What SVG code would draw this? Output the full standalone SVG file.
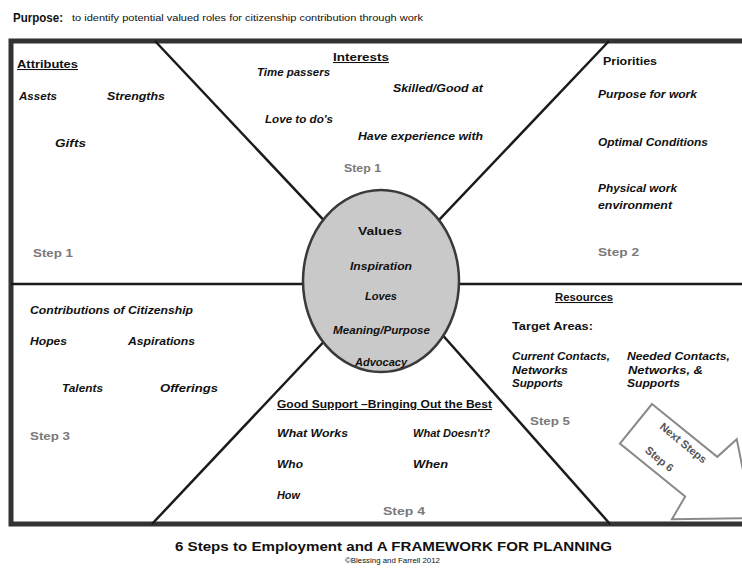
<svg xmlns="http://www.w3.org/2000/svg" width="742" height="570" viewBox="0 0 742 570">
<style>
text{font-family:"Liberation Sans","DejaVu Sans",sans-serif;fill:#111;font-weight:bold;font-size:10.5px;}
.it{font-style:italic;}
.u{text-decoration:underline;}
.st{fill:#7a7a7a;font-weight:bold;}
.ln{stroke:#1a1a1a;stroke-width:2.5;fill:none;}
</style>
<rect x="0" y="0" width="742" height="570" fill="#ffffff"/>
<g id="purpose">
<text x="13" y="22" textLength="50" lengthAdjust="spacingAndGlyphs" style="font-size:13px;">Purpose:</text>
<text x="72" y="21" textLength="351" lengthAdjust="spacingAndGlyphs" style="font-size:9.5px;font-weight:normal;">to identify potential valued roles for citizenship contribution through work</text>
</g>
<g id="frame">
<rect x="11" y="41" width="760" height="483" fill="none" stroke="#333" stroke-width="5"/>
</g>
<g id="connectors">
<line class="ln" x1="11" y1="284" x2="742" y2="284" stroke-width="3"/>
<line class="ln" x1="155" y1="41" x2="381" y2="281"/>
<line class="ln" x1="609" y1="41" x2="381" y2="281"/>
<line class="ln" x1="152" y1="524" x2="381" y2="281"/>
<line class="ln" x1="610" y1="524" x2="400" y2="287"/>
</g>
<g id="attributes">
<text x="17" y="68" class="u" textLength="61" lengthAdjust="spacingAndGlyphs">Attributes</text>
<text x="19" y="100" class="it" textLength="38" lengthAdjust="spacingAndGlyphs">Assets</text>
<text x="107" y="100" class="it" textLength="58" lengthAdjust="spacingAndGlyphs">Strengths</text>
<text x="55" y="147" class="it" textLength="31" lengthAdjust="spacingAndGlyphs">Gifts</text>
<text x="33" y="257" class="st" textLength="40" lengthAdjust="spacingAndGlyphs">Step 1</text>
</g>
<g id="interests">
<text x="333" y="61" class="u" textLength="56" lengthAdjust="spacingAndGlyphs">Interests</text>
<text x="257" y="76" class="it" textLength="73" lengthAdjust="spacingAndGlyphs">Time passers</text>
<text x="393" y="92" class="it" textLength="90" lengthAdjust="spacingAndGlyphs">Skilled/Good at</text>
<text x="265" y="123" class="it" textLength="68" lengthAdjust="spacingAndGlyphs">Love to do's</text>
<text x="358" y="140" class="it" textLength="125" lengthAdjust="spacingAndGlyphs">Have experience with</text>
<text x="344" y="172" class="st" textLength="37" lengthAdjust="spacingAndGlyphs">Step 1</text>
</g>
<g id="priorities">
<text x="603" y="65" textLength="54" lengthAdjust="spacingAndGlyphs">Priorities</text>
<text x="598" y="98" class="it" textLength="99" lengthAdjust="spacingAndGlyphs">Purpose for work</text>
<text x="598" y="146" class="it" textLength="110" lengthAdjust="spacingAndGlyphs">Optimal Conditions</text>
<text x="598" y="192" class="it" textLength="79" lengthAdjust="spacingAndGlyphs">Physical work</text>
<text x="598" y="209" class="it" textLength="74" lengthAdjust="spacingAndGlyphs">environment</text>
<text x="598" y="256" class="st" textLength="41" lengthAdjust="spacingAndGlyphs">Step 2</text>
</g>
<g id="values">
<ellipse cx="381" cy="281" rx="78" ry="91" fill="#c9c9c9" stroke="#3a3a3a" stroke-width="2.5"/>
<text x="358" y="235" textLength="44" lengthAdjust="spacingAndGlyphs" style="font-size:11px;">Values</text>
<text x="350" y="270" class="it" textLength="62" lengthAdjust="spacingAndGlyphs">Inspiration</text>
<text x="365" y="300" class="it" textLength="32" lengthAdjust="spacingAndGlyphs">Loves</text>
<text x="333" y="334" class="it" textLength="97" lengthAdjust="spacingAndGlyphs">Meaning/Purpose</text>
<text x="355" y="366" class="it" textLength="52" lengthAdjust="spacingAndGlyphs">Advocacy</text>
</g>
<g id="contributions">
<text x="30" y="314" class="it" textLength="163" lengthAdjust="spacingAndGlyphs">Contributions of Citizenship</text>
<text x="30" y="345" class="it" textLength="37" lengthAdjust="spacingAndGlyphs">Hopes</text>
<text x="128" y="345" class="it" textLength="67" lengthAdjust="spacingAndGlyphs">Aspirations</text>
<text x="62" y="392" class="it" textLength="41" lengthAdjust="spacingAndGlyphs">Talents</text>
<text x="160" y="392" class="it" textLength="58" lengthAdjust="spacingAndGlyphs">Offerings</text>
<text x="30" y="440" class="st" textLength="40" lengthAdjust="spacingAndGlyphs">Step 3</text>
</g>
<g id="support">
<text x="277" y="408" class="u" textLength="215" lengthAdjust="spacingAndGlyphs">Good Support –Bringing Out the Best</text>
<text x="277" y="437" class="it" textLength="71" lengthAdjust="spacingAndGlyphs">What Works</text>
<text x="413" y="437" class="it" textLength="77" lengthAdjust="spacingAndGlyphs">What Doesn't?</text>
<text x="277" y="468" class="it" textLength="26" lengthAdjust="spacingAndGlyphs">Who</text>
<text x="413" y="468" class="it" textLength="35" lengthAdjust="spacingAndGlyphs">When</text>
<text x="277" y="499" class="it" textLength="23" lengthAdjust="spacingAndGlyphs">How</text>
<text x="383" y="515" class="st" textLength="42" lengthAdjust="spacingAndGlyphs">Step 4</text>
</g>
<g id="resources">
<text x="555" y="301" class="u" textLength="58" lengthAdjust="spacingAndGlyphs">Resources</text>
<text x="512" y="330" textLength="81" lengthAdjust="spacingAndGlyphs">Target Areas:</text>
<text x="512" y="360" class="it" textLength="98" lengthAdjust="spacingAndGlyphs">Current Contacts,</text>
<text x="512" y="374" class="it" textLength="56" lengthAdjust="spacingAndGlyphs">Networks</text>
<text x="512" y="387" class="it" textLength="51" lengthAdjust="spacingAndGlyphs">Supports</text>
<text x="627" y="360" class="it" textLength="103" lengthAdjust="spacingAndGlyphs">Needed Contacts,</text>
<text x="628" y="374" class="it" textLength="75" lengthAdjust="spacingAndGlyphs">Networks, &amp;</text>
<text x="627" y="387" class="it" textLength="53" lengthAdjust="spacingAndGlyphs">Supports</text>
<text x="530" y="425" class="st" textLength="40" lengthAdjust="spacingAndGlyphs">Step 5</text>
</g>
<g id="next-steps">
<polygon transform="translate(652,404) rotate(39)" points="0,0 84,0 88,-26 150,25.5 88,77 84,51 0,51" fill="#ffffff" stroke="#8a8a8a" stroke-width="2"/>
<text transform="translate(681,446) rotate(39)" class="st" text-anchor="middle" style="fill:#555;font-size:11px;">Next Steps</text>
<text transform="translate(657,462) rotate(39)" class="st" text-anchor="middle" style="fill:#555;font-size:11px;">Step 6</text>
</g>
<g id="footer">
<text x="175" y="551" textLength="437" lengthAdjust="spacingAndGlyphs" style="font-size:12.5px;">6 Steps to Employment and A FRAMEWORK FOR PLANNING</text>
<text x="345" y="563" textLength="95" lengthAdjust="spacingAndGlyphs" style="font-size:7px;font-weight:normal;">©Blessing and Farrell 2012</text>
</g>
</svg>
